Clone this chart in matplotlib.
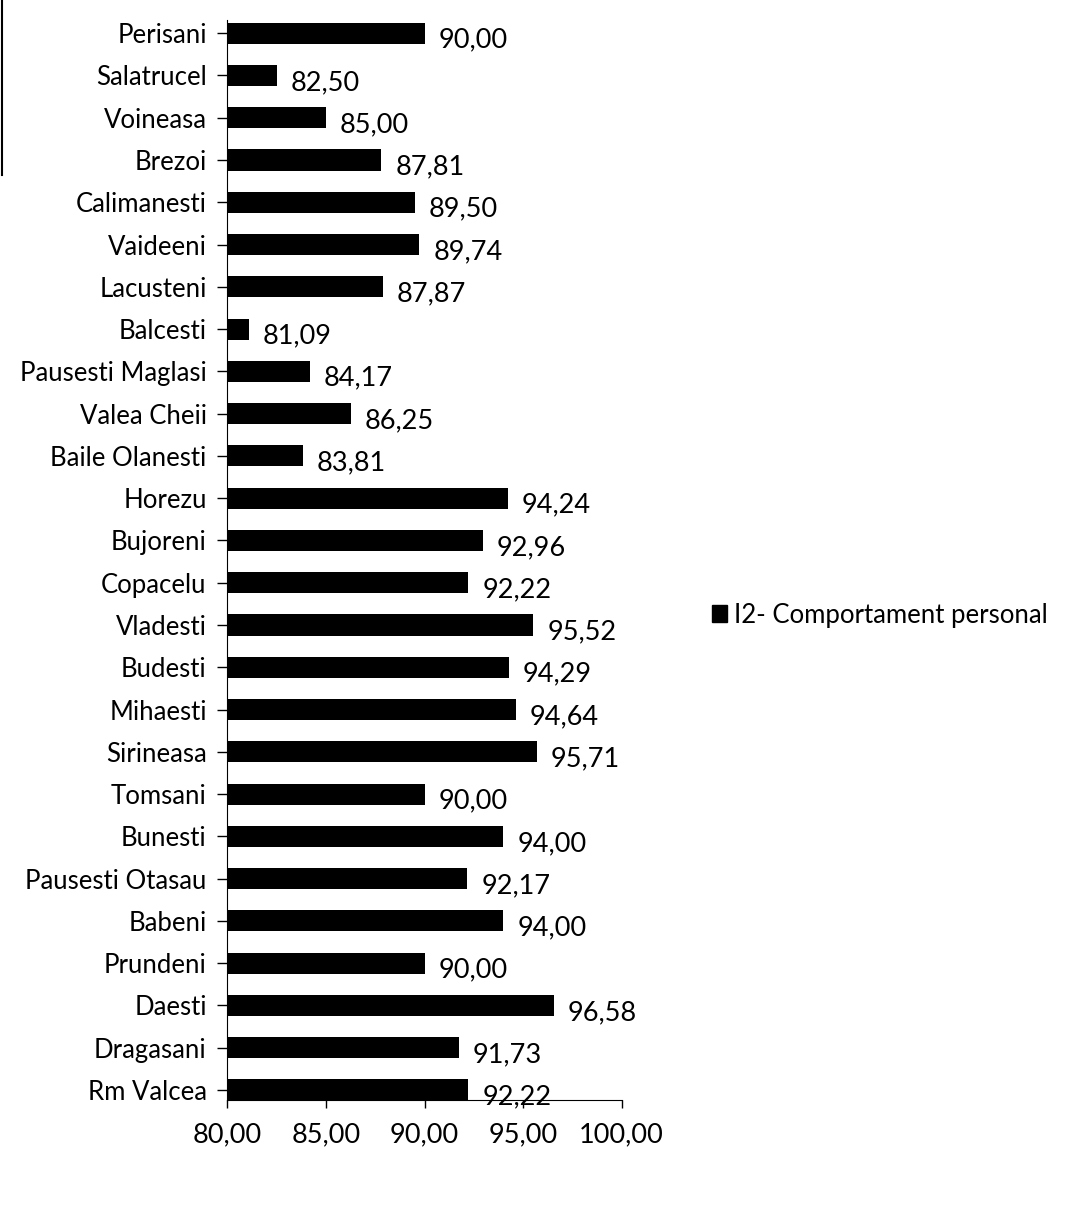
# I2 - comportament personal, pe localitati

import matplotlib.pyplot as plt
from matplotlib.patches import Patch
from matplotlib.lines import Line2D

localitati = [
    "Perisani", "Salatrucel", "Voineasa", "Brezoi", "Calimanesti", "Vaideeni",
    "Lacusteni", "Balcesti", "Pausesti Maglasi", "Valea Cheii", "Baile Olanesti",
    "Horezu", "Bujoreni", "Copacelu", "Vladesti", "Budesti", "Mihaesti",
    "Sirineasa", "Tomsani", "Bunesti", "Pausesti Otasau", "Babeni", "Prundeni",
    "Daesti", "Dragasani", "Rm Valcea"
]

valori = [
    90.00, 82.50, 85.00, 87.81, 89.50, 89.74,
    87.87, 81.09, 84.17, 86.25, 83.81,
    94.24, 92.96, 92.22, 95.52, 94.29, 94.64,
    95.71, 90.00, 94.00, 92.17, 94.00, 90.00,
    96.58, 91.73, 92.22
]

x_ticks = [80, 85, 90, 95, 100]
serie = "I2- Comportament personal"

plt.rcParams["font.family"] = ["Lato", "DejaVu Sans"]

fig = plt.figure(figsize=(10.68, 12.05), dpi=100)
ax = fig.add_axes([0.213, 0.087, 0.369, 0.896])

n = len(localitati)
poz = [n - 1 - i for i in range(n)]

ax.barh(poz, [v - 80 for v in valori], left=80, height=0.5, color="black")

for p, v in zip(poz, valori):
    ax.annotate(f"{v:.2f}".replace(".", ","), xy=(v, p), xytext=(10, -5),
                textcoords="offset points", va="center", ha="left", fontsize=19.5)

ax.set_xlim(80, 100)
ax.set_ylim(-0.24, n - 1 + 0.3)
ax.set_yticks(poz)
ax.set_yticklabels(localitati, fontsize=18.5)
ax.set_xticks(x_ticks)
ax.set_xticklabels([f"{t:.2f}".replace(".", ",") for t in x_ticks], fontsize=19.5)
ax.tick_params(axis="y", length=7, width=1, pad=8)
ax.tick_params(axis="x", length=6, width=1, pad=10)

ax.spines["top"].set_visible(False)
ax.spines["right"].set_visible(False)

fig.legend(handles=[Patch(color="black", label=serie)], loc="center left",
           bbox_to_anchor=(0.645, 1 - 615 / 1205), frameon=False, fontsize=18.5,
           handlelength=0.6, handleheight=0.6, handletextpad=0.25)

# margine din scanare, stanga sus
fig.add_artist(Line2D([0.0015, 0.0015], [1.0, 1 - 175 / 1205], color="black", lw=1.5))

fig.savefig("out.png", dpi=100)
